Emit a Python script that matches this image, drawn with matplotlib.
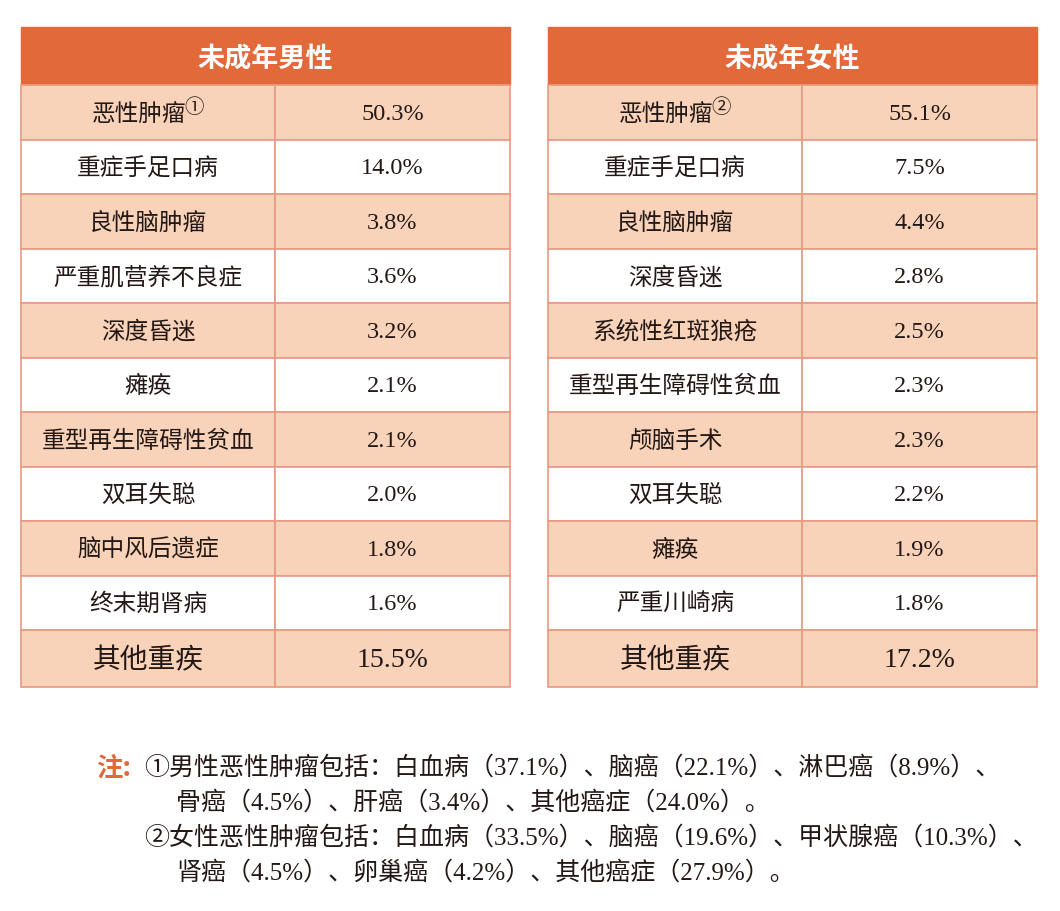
import matplotlib.pyplot as plt
from matplotlib.patches import Rectangle

# 数据
male_title = '未成年男性'
female_title = '未成年女性'
male_names = ['恶性肿瘤', '重症手足口病', '良性脑肿瘤', '严重肌营养不良症', '深度昏迷',
              '瘫痪', '重型再生障碍性贫血', '双耳失聪', '脑中风后遗症', '终末期肾病', '其他重疾']
male_vals = [50.3, 14.0, 3.8, 3.6, 3.2, 2.1, 2.1, 2.0, 1.8, 1.6, 15.5]
female_names = ['恶性肿瘤', '重症手足口病', '良性脑肿瘤', '深度昏迷', '系统性红斑狼疮',
                '重型再生障碍性贫血', '颅脑手术', '双耳失聪', '瘫痪', '严重川崎病', '其他重疾']
female_vals = [55.1, 7.5, 4.4, 2.8, 2.5, 2.3, 2.3, 2.2, 1.9, 1.8, 17.2]
notes = ['①男性恶性肿瘤包括：白血病（37.1%）、脑癌（22.1%）、淋巴癌（8.9%）、',
         '骨癌（4.5%）、肝癌（3.4%）、其他癌症（24.0%）。',
         '②女性恶性肿瘤包括：白血病（33.5%）、脑癌（19.6%）、甲状腺癌（10.3%）、',
         '肾癌（4.5%）、卵巢癌（4.2%）、其他癌症（27.9%）。']

HEAD = '#E2693A'
SHADE = '#F8D3B9'
EDGE = '#E89A82'
INK = '#231815'
SERIF = ['Liberation Serif', 'Noto Sans CJK SC']
CJK = ['Noto Sans CJK SC', 'DejaVu Sans']

fig = plt.figure(figsize=(10.6, 9.12), dpi=100)
ax = fig.add_axes([0, 0, 1, 1])
ax.set_xlim(0, 1060)
ax.set_ylim(912, 0)
ax.axis('off')

def draw_table(x0, title, names, vals, mark):
    w1, w2 = 254, 235
    top, hh, rh, lh = 28, 58, 54.5, 57
    ax.add_patch(Rectangle((x0, top), w1 + w2, hh, facecolor=HEAD, edgecolor=HEAD, lw=1))
    ax.text(x0 + (w1 + w2) / 2, top + hh / 2 + 1, title, color='white', fontsize=19.5,
            fontweight='bold', family=CJK, ha='center', va='center')
    n = len(names)
    for i in range(n):
        y = top + hh + i * rh
        h = lh if i == n - 1 else rh
        fc = SHADE if i % 2 == 0 else 'white'
        ax.add_patch(Rectangle((x0, y), w1, h, facecolor=fc, edgecolor=EDGE, lw=1.2))
        ax.add_patch(Rectangle((x0 + w1, y), w2, h, facecolor=fc, edgecolor=EDGE, lw=1.2))
        big = i == n - 1
        fs1 = 20 if big else 17
        fs2 = 20 if big else 17.5
        cx = x0 + w1 / 2
        if i == 0:
            cx -= 9
        ax.text(cx, y + h / 2 + 1, names[i], fontsize=fs1, family=CJK,
                ha='center', va='center', color=INK)
        if i == 0:
            ax.text(cx + 45, y + h / 2 - 6, mark, fontsize=14, family=CJK,
                    ha='left', va='center', color=INK)
        ax.text(x0 + w1 + w2 / 2, y + h / 2 + 1, '%.1f%%' % vals[i], fontsize=fs2,
                family=SERIF, ha='center', va='center', color=INK)

draw_table(21, male_title, male_names, male_vals, '①')
draw_table(548, female_title, female_names, female_vals, '②')

ax.text(96, 768, '注:', color=HEAD, fontsize=19, fontweight='bold', family=CJK,
        ha='left', va='center')
note_x = [144, 176, 144, 176]
note_y = [768, 803, 838, 873]
for t, x, y in zip(notes, note_x, note_y):
    ax.text(x, y, t, fontsize=18, family=SERIF, ha='left', va='center', color=INK)

fig.savefig('out.png', dpi=100)
